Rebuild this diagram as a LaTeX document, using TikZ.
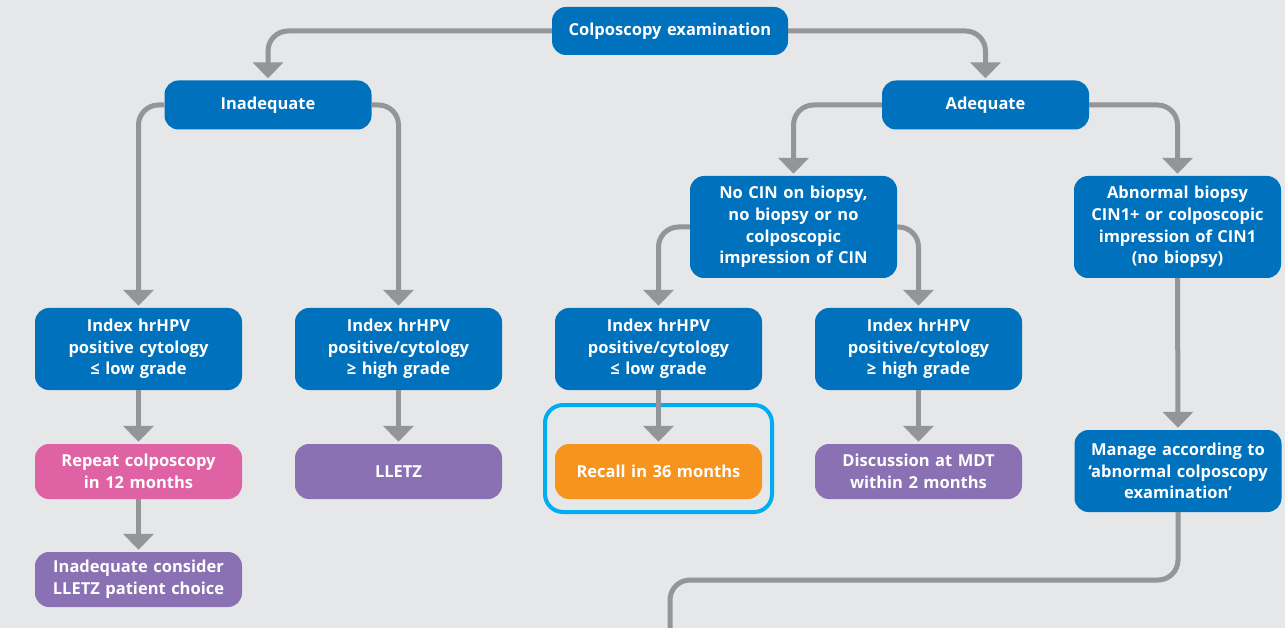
\documentclass[tikz,border=0pt]{standalone}
\usepackage{fontspec}
\setmainfont{Open Sans}
\usetikzlibrary{arrows.meta}
\definecolor{bg}{HTML}{E6E7E8}
\definecolor{cblue}{HTML}{0071BC}
\definecolor{cpink}{HTML}{DE62A4}
\definecolor{cpurple}{HTML}{8A71B3}
\definecolor{corange}{HTML}{F7941D}
\definecolor{ccyan}{HTML}{00AEEF}
\definecolor{cgray}{HTML}{939598}
\tikzset{
  box/.style={rounded corners=14pt, text=white, font=\fontsize{16.5}{21.7}\selectfont\bfseries,
    align=center, minimum width=207pt, text width=204pt, inner sep=0pt},
  bluebox/.style={box, fill=cblue},
  pinkbox/.style={box, fill=cpink},
  purplebox/.style={box, fill=cpurple},
  orangebox/.style={box, fill=corange},
  conn/.style={draw=cgray, line width=5pt, rounded corners=20pt},
  arr/.style={conn, -{Triangle[width=30pt,length=16pt]}, shorten >=2pt},
}
\begin{document}
\begin{tikzpicture}[x=1pt,y=-1pt]
\fill[bg] (0,0) rectangle (1285,628);
\useasboundingbox (0,0) rectangle (1285,628);

\node[bluebox, minimum height=48pt, minimum width=236pt] (col) at (670,31) {Colposcopy examination};
\node[bluebox, minimum height=49pt] (inad) at (268,105) {Inadequate};
\node[bluebox, minimum height=49pt] (adeq) at (985.5,105) {Adequate};
\node[bluebox, minimum height=102pt] (nocin) at (793.5,227) {No CIN on biopsy,\\no biopsy or no\\colposcopic\\impression of CIN};
\node[bluebox, minimum height=102pt] (abn) at (1177.5,227) {Abnormal biopsy\\CIN1+ or colposcopic\\impression of CIN1\\(no biopsy)};
\node[bluebox, minimum height=82pt] (i1) at (138.5,349) {Index hrHPV\\positive cytology\\≤ low grade};
\node[bluebox, minimum height=82pt] (i2) at (398.5,349) {Index hrHPV\\positive/cytology\\≥ high grade};
\node[bluebox, minimum height=82pt] (i3) at (658.5,349) {Index hrHPV\\positive/cytology\\≤ low grade};
\node[bluebox, minimum height=82pt] (i4) at (918.5,349) {Index hrHPV\\positive/cytology\\≥ high grade};
\node[pinkbox, minimum height=55pt] (rep) at (138.5,471.5) {Repeat colposcopy\\in 12 months};
\node[purplebox, minimum height=55pt] (lletz) at (398.5,471.5) {LLETZ};
\node[draw=ccyan, line width=4pt, rounded corners=18pt, minimum width=227pt, minimum height=107pt, inner sep=0pt] (frame) at (658.5,458.5) {};
\node[orangebox, minimum height=55pt] (recall) at (658.5,471.5) {Recall in 36 months};
\node[purplebox, minimum height=55pt] (mdt) at (918.5,471.5) {Discussion at MDT\\within 2 months};
\node[bluebox, minimum height=82pt] (man) at (1178,471) {Manage according to\\‘abnormal colposcopy\\examination’};
\node[purplebox, minimum height=55pt] (cons) at (138.5,579.5) {Inadequate consider\\LLETZ patient choice};

\draw[arr] (col.west) -| (inad.north);
\draw[arr] (col.east) -| (adeq.north);
\draw[arr] (inad.west) -| (i1.north);
\draw[arr] (inad.east) -| (i2.north);
\draw[arr] (adeq.west) -| (nocin.north);
\draw[arr] (adeq.east) -| (abn.north);
\draw[arr] (nocin.west) -| (i3.north);
\draw[arr] (nocin.east) -| (i4.north);
\draw[arr] (i1.south) -- (rep.north);
\draw[arr] (i2.south) -- (lletz.north);
\draw[arr] (i3.south) -- (recall.north);
\draw[arr] (i4.south) -- (mdt.north);
\draw[arr] (abn.south) -- (man.north);
\draw[arr] (rep.south) -- (cons.north);
\coordinate (bend) at (670,580);
\coordinate (fend) at (670,632);
\draw[conn] (man.south) |- (bend) -- (fend);
\end{tikzpicture}
\end{document}
